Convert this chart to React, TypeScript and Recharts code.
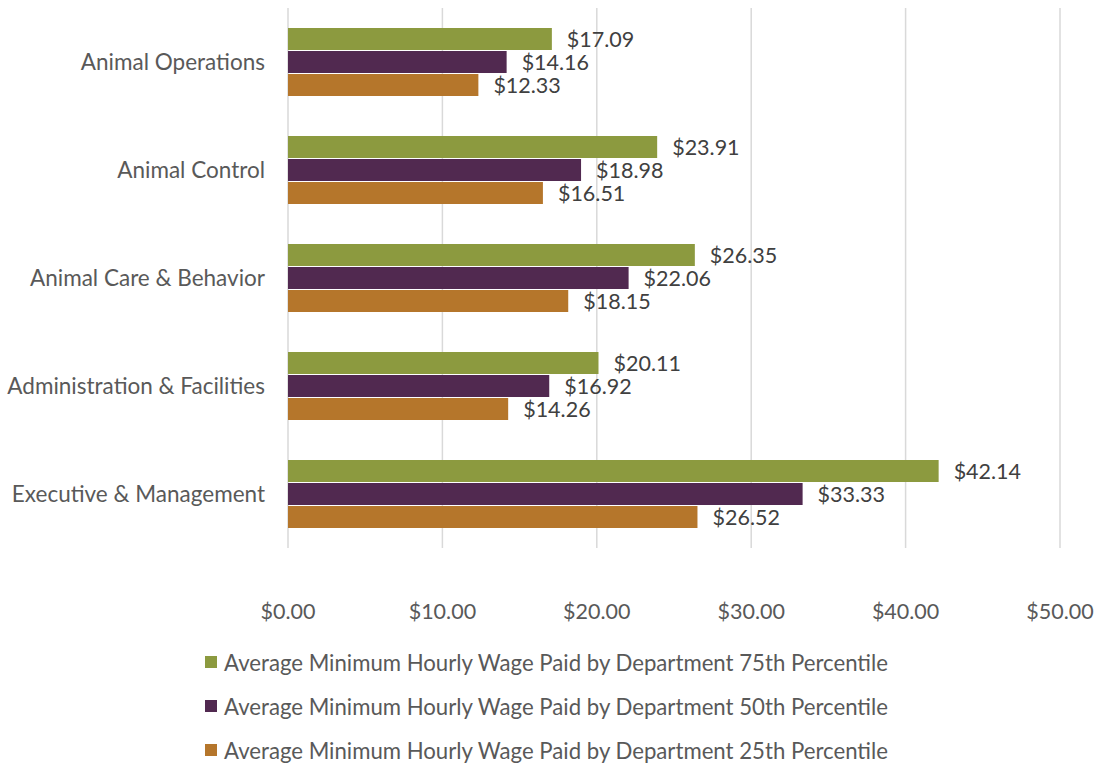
import { BarChart, Bar, XAxis, YAxis, CartesianGrid, Legend, LabelList } from "recharts";

const departments = [
  "Animal Operations",
  "Animal Control",
  "Animal Care & Behavior",
  "Administration & Facilities",
  "Executive & Management",
];
const p75 = [17.09, 23.91, 26.35, 20.11, 42.14];
const p50 = [14.16, 18.98, 22.06, 16.92, 33.33];
const p25 = [12.33, 16.51, 18.15, 14.26, 26.52];
const xTicks = [0, 10, 20, 30, 40, 50];

const SERIES = [
  { key: "p75", name: "Average Minimum Hourly Wage Paid by Department 75th Percentile", color: "#8C9A3F" },
  { key: "p50", name: "Average Minimum Hourly Wage Paid by Department 50th Percentile", color: "#512950" },
  { key: "p25", name: "Average Minimum Hourly Wage Paid by Department 25th Percentile", color: "#B5762B" },
];

const data = departments.map((d, i) => ({ name: d, p75: p75[i], p50: p50[i], p25: p25[i] }));

const money = (v: unknown) => `$${Number(v).toFixed(2)}`;

function LegendBox() {
  return (
    <div style={{ paddingLeft: 205, paddingTop: 19 }}>
      {SERIES.map((s, i) => (
        <div
          key={s.key}
          style={{ display: "flex", alignItems: "center", height: 24, marginBottom: i < 2 ? 20 : 0 }}
        >
          <span style={{ width: 12, height: 12, background: s.color, marginRight: 7, display: "inline-block", flex: "none" }} />
          <span style={{ fontSize: 22.2, color: "#595959", whiteSpace: "nowrap" }}>{s.name}</span>
        </div>
      ))}
    </div>
  );
}

export default function App() {
  return (
    <div style={{ position: "absolute", left: 0, top: 0, fontFamily: "Lato, 'Open Sans', sans-serif" }}>
      <BarChart
        width={1099}
        height={766}
        data={data}
        layout="vertical"
        margin={{ top: 8, right: 39, left: 0, bottom: 4 }}
        barGap={1}
        barSize={22}
      >
        <CartesianGrid horizontal={false} stroke="#D9D9D9" strokeWidth={1.5} />
        <XAxis
          type="number"
          domain={[0, 50]}
          ticks={xTicks}
          tickFormatter={money}
          axisLine={false}
          tickLine={false}
          tickMargin={50}
          height={83}
          tick={{ fontSize: 21.5, fill: "#595959" }}
        />
        <YAxis
          type="category"
          dataKey="name"
          width={288}
          axisLine={false}
          tickLine={false}
          tickMargin={17}
          tick={{ fontSize: 22.5, fill: "#595959" }}
        />
        {SERIES.map((s) => (
          <Bar key={s.key} dataKey={s.key} name={s.name} fill={s.color} isAnimationActive={false}>
            <LabelList
              dataKey={s.key}
              position="right"
              offset={15}
              formatter={money}
              style={{ fontSize: 21.5, fill: "#404040" }}
            />
          </Bar>
        ))}
        <Legend verticalAlign="bottom" align="left" content={() => <LegendBox />} wrapperStyle={{ height: 131 }} />
      </BarChart>
    </div>
  );
}
